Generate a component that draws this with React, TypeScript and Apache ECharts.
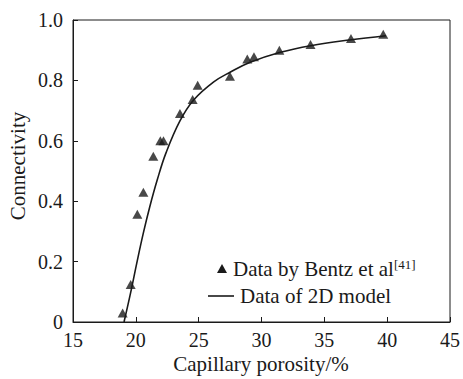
import React, { useEffect, useRef } from "react";
import * as echarts from "echarts";

// Measured connectivity (Bentz et al.)
const bentzPorosity = [18.95, 19.59, 20.12, 20.6, 21.39, 21.95, 22.2, 23.51, 24.52, 24.92, 27.49, 28.87, 29.4, 31.42, 33.9, 37.12, 39.69];
const bentzConnectivity = [0.03, 0.124, 0.357, 0.43, 0.549, 0.6, 0.6, 0.69, 0.737, 0.784, 0.814, 0.871, 0.878, 0.9, 0.919, 0.939, 0.953];

// 2D model curve
const modelPorosity = [19.06, 19.6, 20.1, 20.6, 21.1, 21.7, 22.4, 23.5, 24.6, 26.2, 27.5, 29.1, 31.5, 33.9, 37.0, 39.9];
const modelConnectivity = [0, 0.1, 0.2, 0.295, 0.38, 0.47, 0.56, 0.665, 0.735, 0.795, 0.827, 0.86, 0.893, 0.915, 0.934, 0.948];

const xTicks = { min: 15, max: 45, interval: 5 };
const yTicks = { min: 0, max: 1, interval: 0.2 };

const FONT = "Liberation Serif";
const INK = "#1a1a1a";

export default function App() {
  const ref = useRef<HTMLDivElement>(null);

  useEffect(() => {
    if (!ref.current) return;
    const chart = echarts.init(ref.current, null, { renderer: "svg" });

    const axisCommon = {
      axisLine: { show: true, lineStyle: { color: INK, width: 1 } },
      axisTick: { show: true, inside: true, length: 5, lineStyle: { color: INK } },
      splitLine: { show: false },
      axisLabel: { color: INK, fontFamily: FONT, fontSize: 20 },
    };

    chart.setOption({
      animation: false,
      backgroundColor: "#ffffff",
      textStyle: { fontFamily: FONT },
      grid: {
        left: 73,
        top: 20,
        right: 13,
        bottom: 57,
        show: true,
        borderColor: INK,
        borderWidth: 1,
        containLabel: false,
      },
      xAxis: {
        type: "value",
        ...xTicks,
        ...axisCommon,
        axisLabel: { ...axisCommon.axisLabel, margin: 8 },
      },
      yAxis: {
        type: "value",
        ...yTicks,
        ...axisCommon,
        axisLabel: {
          ...axisCommon.axisLabel,
          margin: 10,
          formatter: (v: number) => (v === 0 ? "0" : v.toFixed(1)),
        },
      },
      series: [
        {
          name: "Data of 2D model",
          type: "line",
          data: modelPorosity.map((x, i) => [x, modelConnectivity[i]]),
          smooth: 0.4,
          showSymbol: false,
          lineStyle: { color: INK, width: 1.6 },
          z: 2,
        },
        {
          name: "Data by Bentz et al",
          type: "scatter",
          data: bentzPorosity.map((x, i) => [x, bentzConnectivity[i]]),
          symbol: "triangle",
          symbolSize: [10, 9],
          itemStyle: { color: INK },
          z: 3,
        },
      ],
      graphic: [
        {
          type: "text",
          x: 18,
          y: 166,
          rotation: Math.PI / 2,
          style: {
            text: "Connectivity",
            fontFamily: FONT,
            fontSize: 21,
            fill: INK,
            textAlign: "center",
            textVerticalAlign: "middle",
          },
        },
        {
          type: "text",
          x: 261,
          y: 364,
          style: {
            text: "Capillary porosity/%",
            fontFamily: FONT,
            fontSize: 21,
            fill: INK,
            textAlign: "center",
            textVerticalAlign: "middle",
          },
        },
        {
          type: "polygon",
          shape: { points: [[217, 273], [222, 264], [227, 273]] },
          style: { fill: INK },
        },
        {
          type: "text",
          x: 233,
          y: 269,
          style: {
            text: "Data by Bentz et al{sup|[41]}",
            fontFamily: FONT,
            fontSize: 21,
            fill: INK,
            textVerticalAlign: "middle",
            rich: {
              sup: {
                fontFamily: FONT,
                fontSize: 13,
                fill: INK,
                verticalAlign: "top",
                padding: [0, 0, 9, 0],
              },
            },
          },
        },
        {
          type: "line",
          shape: { x1: 208, y1: 296, x2: 234, y2: 296 },
          style: { stroke: INK, lineWidth: 1.6 },
        },
        {
          type: "text",
          x: 240,
          y: 296,
          style: {
            text: "Data of 2D model",
            fontFamily: FONT,
            fontSize: 21,
            fill: INK,
            textVerticalAlign: "middle",
          },
        },
      ],
    });

    return () => chart.dispose();
  }, []);

  return (
    <div
      ref={ref}
      style={{ position: "fixed", left: 0, top: 0, width: 463, height: 379 }}
    />
  );
}
